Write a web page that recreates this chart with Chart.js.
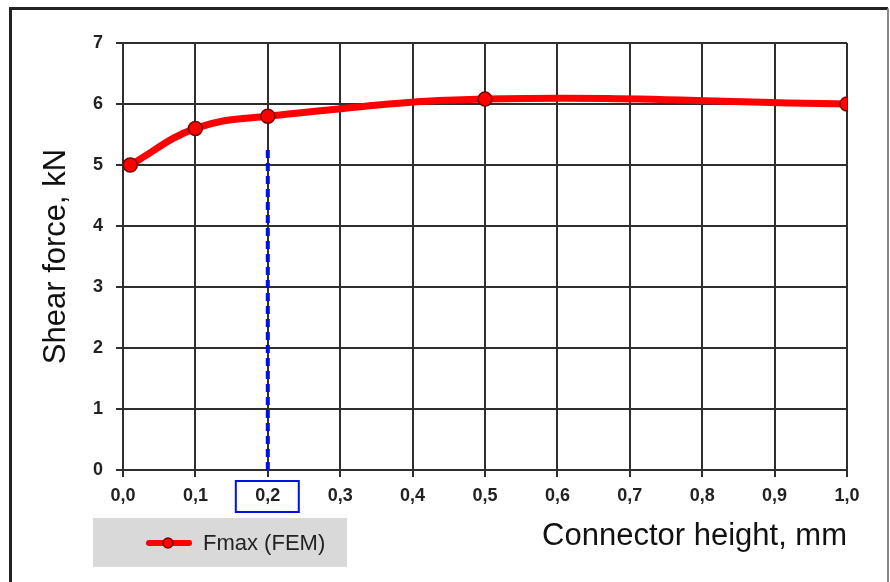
<!DOCTYPE html>
<html>
<head>
<meta charset="utf-8">
<script src="https://cdn.jsdelivr.net/npm/chart.js@4"></script>
<style>
  html, body { margin: 0; padding: 0; background: #fff; }
  #wrap { width: 890px; height: 582px; }
</style>
</head>
<body>
<div id="wrap"><canvas id="myChart" width="890" height="582"></canvas></div>
<script>
// datos
const alturaConector = [0.01, 0.1, 0.2, 0.5, 1.0];
const fuerzaCorte = [5.0, 5.6, 5.8, 6.08, 6.0];
const alturaMarcada = [0.2, 0.2];
const fuerzaMarcada = [0, 5.3];
const nombreSerie = 'Fmax (FEM)';

const rojo = '#ff0000';
const azul = '#0010e0';
const gris = '#2e2e2e';

function puntos(xs, ys) {
  const out = [];
  for (let i = 0; i < xs.length; i++) out.push({ x: xs[i], y: ys[i] });
  return out;
}

const decoracion = {
  id: 'decoracion',
  beforeDraw(chart) {
    const ctx = chart.ctx;
    ctx.save();
    ctx.fillStyle = '#fff';
    ctx.fillRect(0, 0, chart.width, chart.height);
    // marco exterior
    ctx.strokeStyle = '#222';
    ctx.lineWidth = 3;
    ctx.beginPath();
    ctx.moveTo(10.5, chart.height + 5);
    ctx.lineTo(10.5, 8.5);
    ctx.lineTo(888, 8.5);
    ctx.stroke();
    ctx.strokeStyle = '#888';
    ctx.lineWidth = 2;
    ctx.beginPath();
    ctx.moveTo(888, 8.5);
    ctx.lineTo(888, chart.height + 5);
    ctx.stroke();
    ctx.restore();
  },
  afterDraw(chart) {
    const ctx = chart.ctx;
    const xs = chart.scales.x;
    ctx.save();
    // recuadro azul en 0,2
    const cx = xs.getPixelForValue(alturaMarcada[0]);
    ctx.strokeStyle = azul;
    ctx.lineWidth = 2;
    ctx.strokeRect(cx - 32, 481, 63, 31);

    // leyenda
    ctx.fillStyle = '#d9d9d9';
    ctx.fillRect(93, 518, 254, 49);
    ctx.strokeStyle = rojo;
    ctx.lineWidth = 6;
    ctx.lineCap = 'round';
    ctx.beginPath();
    ctx.moveTo(149, 543);
    ctx.lineTo(189, 543);
    ctx.stroke();
    ctx.beginPath();
    ctx.arc(168, 543, 5, 0, Math.PI * 2);
    ctx.fillStyle = rojo;
    ctx.fill();
    ctx.lineWidth = 1.5;
    ctx.strokeStyle = '#7a0000';
    ctx.stroke();
    ctx.fillStyle = '#222';
    ctx.font = '22px "Liberation Sans", Arial, sans-serif';
    ctx.textBaseline = 'middle';
    ctx.textAlign = 'left';
    ctx.fillText(nombreSerie, 203, 544);
    ctx.restore();
  }
};

const ctx = document.getElementById('myChart');

const data = {
  datasets: [{
    label: 'marca',
    data: puntos(alturaMarcada, fuerzaMarcada),
    borderColor: azul,
    borderWidth: 4,
    borderDash: [8, 5],
    pointRadius: 0,
    order: 2
  }, {
    label: nombreSerie,
    data: puntos(alturaConector, fuerzaCorte),
    borderColor: rojo,
    borderWidth: 7,
    tension: 0.4,
    pointRadius: 7,
    pointBackgroundColor: rojo,
    pointBorderColor: '#7a0000',
    pointBorderWidth: 1.5,
    order: 1
  }]
};

const fuenteTick = { family: '"Liberation Sans", Arial, sans-serif', size: 18, weight: 'bold' };
const fuenteTitulo = { family: '"Liberation Sans", Arial, sans-serif', size: 31 };

const config = {
  type: 'line',
  data: data,
  plugins: [decoracion],
  options: {
    responsive: false,
    animation: false,
    layout: { padding: { left: 38, top: 43, right: 43, bottom: 27 } },
    plugins: { legend: { display: false }, tooltip: { enabled: false } },
    scales: {
      x: {
        type: 'linear',
        min: 0,
        max: 1,
        ticks: {
          stepSize: 0.1,
          color: '#222',
          font: fuenteTick,
          padding: 8,
          maxRotation: 0,
          callback: function (v) { return v.toFixed(1).replace('.', ','); }
        },
        grid: { color: gris, lineWidth: 2, tickLength: 7, tickColor: gris },
        border: { color: gris, width: 2 },
        title: {
          display: true,
          text: 'Connector height, mm',
          align: 'end',
          color: '#111',
          font: fuenteTitulo,
          padding: 0
        },
        afterFit: function (scale) { scale.height = 85; }
      },
      y: {
        min: 0,
        max: 7,
        ticks: { stepSize: 1, color: '#222', font: fuenteTick, padding: 13 },
        grid: { color: gris, lineWidth: 2, tickLength: 7, tickColor: gris },
        border: { color: gris, width: 2 },
        title: {
          display: true,
          text: 'Shear force, kN',
          color: '#111',
          font: fuenteTitulo,
          padding: 0
        },
        afterFit: function (scale) { scale.width = 85; }
      }
    }
  }
};

new Chart(ctx, config);
</script>
</body>
</html>
